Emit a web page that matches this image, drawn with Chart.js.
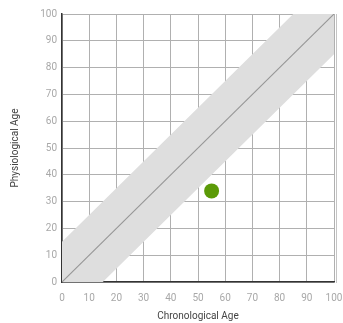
<!DOCTYPE html>
<html><head><meta charset="utf-8">
<script src="https://cdn.jsdelivr.net/npm/chart.js@4/dist/chart.umd.min.js"></script>
<style>html,body{margin:0;padding:0;background:#fff}#wrap{width:343px;height:323px}</style>
</head><body><div id="wrap"><canvas id="c"></canvas></div>
<script>
const xTicks = [0,10,20,30,40,50,60,70,80,90,100];
const yTicks = [0,10,20,30,40,50,60,70,80,90,100];
const bandX = [0, 0, 85, 100, 100, 15];
const bandY = [0, 15, 100, 100, 85, 0];
const diagX = [0, 100];
const diagY = [0, 100];
const pointX = [55];
const pointY = [34];

const zip = (xs, ys) => xs.map((x, i) => ({x, y: ys[i]}));
const font = {family: 'Roboto', size: 10};

new Chart(document.getElementById('c'), {
  type: 'scatter',
  data: {
    datasets: [
      {data: zip(bandX, bandY), showLine: true, fill: 'shape', backgroundColor: '#dedede', borderWidth: 0, pointRadius: 0, order: 3},
      {data: zip(diagX, diagY), showLine: true, borderColor: '#969696', borderWidth: 1.1, pointRadius: 0, order: 2},
      {data: zip(pointX, pointY), backgroundColor: '#5b9a07', borderWidth: 0, pointRadius: 7.5, order: 1}
    ]
  },
  options: {
    responsive: true, maintainAspectRatio: false, animation: false,
    layout: {padding: {top: 14, right: 9, left: 0, bottom: 0}},
    plugins: {legend: {display: false}, tooltip: {enabled: false}},
    scales: {
      x: {
        type: 'linear', min: 0, max: 100,
        afterBuildTicks: s => { s.ticks = xTicks.map(v => ({value: v})); },
        ticks: {color: '#a8a8a8', font, padding: 10, maxRotation: 0},
        grid: {color: '#b0b0b0', lineWidth: 1, drawTicks: false},
        border: {color: '#333', width: 1.5},
        title: {display: true, text: 'Chronological Age', color: '#444', font, padding: {top: 2, bottom: 0.5}},
        afterFit: s => { s.height = 41; s.paddingRight = 0; s.paddingLeft = 0; }
      },
      y: {
        type: 'linear', min: 0, max: 100,
        afterBuildTicks: s => { s.ticks = yTicks.map(v => ({value: v})); },
        ticks: {color: '#a8a8a8', font, padding: 5},
        grid: {color: '#b0b0b0', lineWidth: 1, drawTicks: false},
        border: {color: '#333', width: 1.5},
        title: {display: true, text: 'Physiological Age', color: '#444', font, padding: {top: 9.5, bottom: 2}},
        afterFit: s => { s.width = 62; s.paddingTop = 0; s.paddingBottom = 0; }
      },
      y2: {
        type: 'linear', axis: 'y', min: 0, max: 100,
        position: {x: 101.1},
        ticks: {display: false},
        grid: {display: true, drawOnChartArea: false, drawTicks: false},
        border: {display: true, color: '#c4c4c4', width: 1}
      }
    }
  }
});
</script></body></html>
